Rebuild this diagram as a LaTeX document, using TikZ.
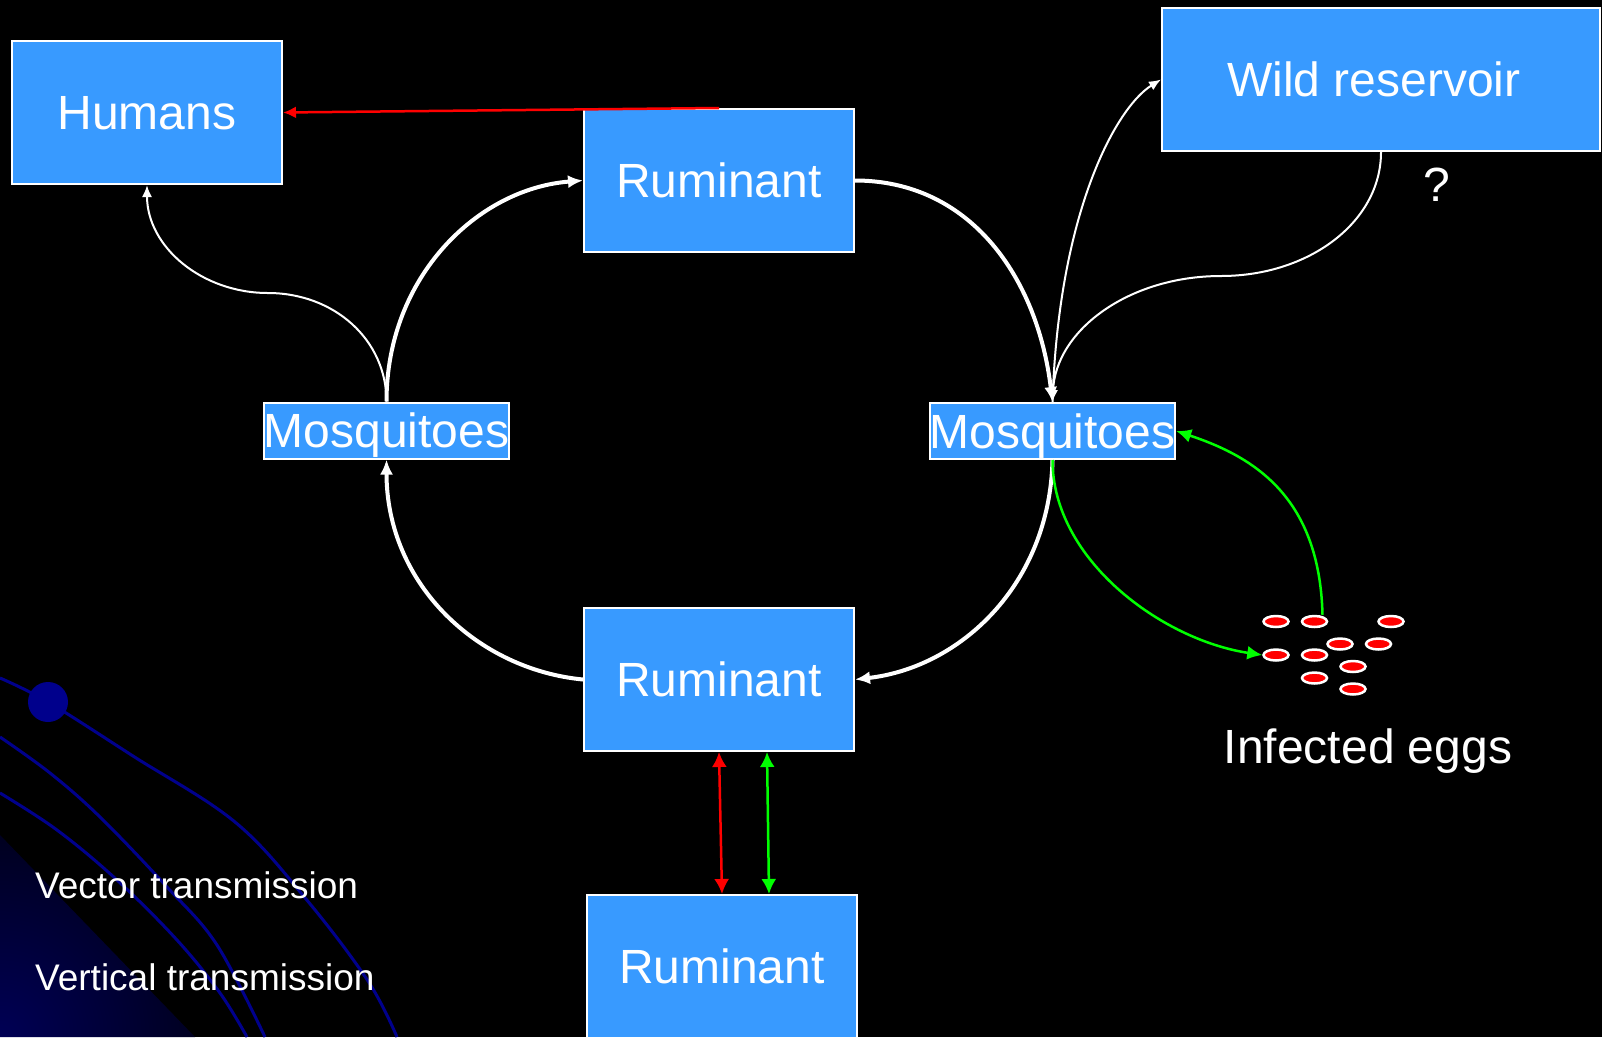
\documentclass[tikz,border=0pt]{standalone}
\usepackage{fontspec}
\setmainfont{Liberation Sans}
\usetikzlibrary{arrows.meta,shapes.geometric}
\definecolor{boxblue}{RGB}{56,154,255}
\definecolor{decnavy}{RGB}{0,0,140}
\definecolor{deepnavy}{RGB}{0,0,85}
\definecolor{arrgreen}{RGB}{0,255,0}
\definecolor{arrred}{RGB}{255,0,0}
\begin{document}
\begin{tikzpicture}[x=1pt,y=-1pt,
  box/.style={rectangle, draw=white, line width=2pt, fill=boxblue, inner sep=0pt,
    text=white, font=\fontsize{48}{56}\selectfont, text depth=0pt},
  bigbox/.style={box, minimum width=270pt, minimum height=143pt},
  mosbox/.style={box, minimum width=245pt, minimum height=56pt},
  egg/.style={ellipse, draw=white, line width=2.5pt, fill=arrred,
    minimum width=25pt, minimum height=11pt, inner sep=0pt},
  thickarr/.style={draw=white, line width=4pt, -{Latex[length=15pt,width=13pt]}},
  thinarr/.style={draw=white, line width=2pt, -{Latex[length=12pt,width=10pt]}},
  redarr/.style={draw=arrred, line width=2.5pt, -{Latex[length=13pt,width=12pt]}},
  greenarr/.style={draw=arrgreen, line width=2.5pt, -{Latex[length=15pt,width=14pt]}},
  dblred/.style={draw=arrred, line width=2.5pt, {Latex[length=15pt,width=15pt]}-{Latex[length=15pt,width=15pt]}},
  dblgreen/.style={draw=arrgreen, line width=2.5pt, {Latex[length=15pt,width=15pt]}-{Latex[length=15pt,width=15pt]}},
  lbl/.style={text=white, inner sep=0pt, font=\fontsize{48}{56}\selectfont},
  leg/.style={text=white, inner sep=0pt, font=\fontsize{37}{44}\selectfont, anchor=base west}
]
\useasboundingbox (0,0) rectangle (1602,1037);
\fill[black] (0,0) rectangle (1602,1037);

% background decoration
\begin{scope}
  \clip (0,835) -- (0,1037) -- (195,1037) -- cycle;
  \shade[inner color=deepnavy, outer color=black] (0,1037) circle (320);
\end{scope}
\draw[decnavy, line width=3pt] plot[smooth, tension=0.6] coordinates
  {(0,678) (48,702) (133,756) (235,822) (306,899) (368,981) (397,1037)};
\draw[decnavy, line width=3pt] plot[smooth, tension=0.6] coordinates
  {(0,737) (50,773) (100,817) (167,887) (217,945) (265,1037)};
\draw[decnavy, line width=3pt] plot[smooth, tension=0.6] coordinates
  {(0,793) (57,830) (117,880) (177,940) (220,993) (247,1037)};
\fill[decnavy] (48,702) circle (20);

% boxes
\node[bigbox] (hum) at (147,112.5) {Humans};
\node[bigbox] (rt) at (719,180.5) {Ruminant};
\node[box, minimum width=438pt, minimum height=143pt] (wr) at (1381,79.5) {\hspace*{-14pt}Wild reservoir};
\node[mosbox] (ml) at (386.5,430.5) {Mosquitoes};
\node[mosbox] (mr) at (1052.5,431) {Mosquitoes};
\node[bigbox] (rm) at (719,679.5) {Ruminant};
\node[bigbox] (rb) at (722,966.5) {Ruminant};

% eggs
\foreach \n/\x/\y in {1/1276/621.5, 2/1314.5/621.5, 3/1391/621.5, 4/1340/644,
  5/1378.5/644, 6/1276/655, 7/1314.5/655, 8/1353/666.5, 9/1314.5/678, 10/1353/689}
  \node[egg] (e\n) at (\x,\y) {};

% labels
\node[lbl, anchor=base] (q) at (1437,201) {?};
\node[lbl, anchor=base] (ie) at (1368,763) {Infected eggs};
\node[leg] (vt) at (35,898) {Vector transmission};
\node[leg] (vv) at (35,990) {Vertical transmission};

% main cycle
\draw[thickarr] (rt.east) .. controls +(115,0) and +(-15,-125) .. (mr.north);
\draw[thickarr] (mr.south) .. controls +(-3,125) and +(105,-12) .. (rm.east);
\draw[thickarr] (rm.west) .. controls +(-105,-10) and +(0,125) .. (ml.south);
\draw[thickarr] (ml.north) .. controls +(0,-125) and +(-105,8) .. (rt.west);

% thin white
\coordinate (hbend) at (268,293);
\draw[thinarr] (ml.north) .. controls +(0,-62) and +(66,0) .. (hbend)
  .. controls +(-66,0) and +(0,62) .. (hum.south);
\draw[thinarr] (mr.north) .. controls +(6,-190) and +(-45,28) .. (wr.west);
\coordinate (wbend) at (1221,276);
\draw[thinarr] (wr.south) .. controls +(0,70) and +(88,0) .. (wbend)
  .. controls +(-92,0) and +(3,-72) .. (mr.north);

% red and green
\draw[redarr] (rt.north) -- (hum.east);
\draw[dblred] (rm.south) -- (rb.north);
\draw[dblgreen] ([xshift=48pt]rm.south) -- ([xshift=47pt]rb.north);
\draw[greenarr] ([xshift=8pt]e2.north) .. controls +(-3,-120) and +(75,25) .. (mr.east);
\draw[greenarr] (mr.south) .. controls +(0,100) and +(-100,-15) .. (e6.west);
\end{tikzpicture}
\end{document}
